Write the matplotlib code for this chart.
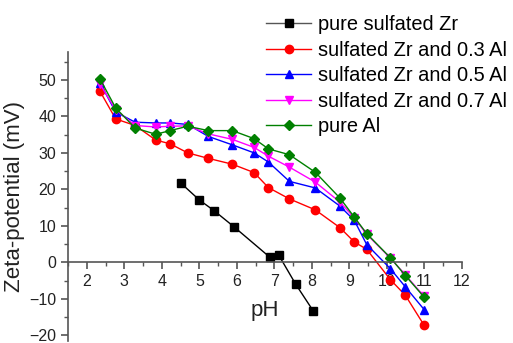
import numpy as np
import matplotlib
matplotlib.use("Agg")
import matplotlib.pyplot as plt
from matplotlib.ticker import MultipleLocator

# pH values
ph_zr = [4.51, 5.0, 5.39, 5.93, 6.87, 7.11, 7.57, 8.03]
zeta_zr = [21.7, 17.1, 14.2, 9.7, 1.5, 2.1, -6.0, -13.2]

ph = [2.35, 2.77, 3.29, 3.84, 4.22, 4.69, 5.24, 5.88, 6.46, 6.84, 7.40, 8.09,
      8.75, 9.13, 9.46, 10.09, 10.49, 10.99]
zeta_03 = [46.9, 39.3, 37.5, 33.5, 32.5, 30.0, 28.5, 26.9, 24.6, 20.5, 17.4, 14.4,
           9.5, 5.6, 3.6, -4.7, -9.0, -17.2]
zeta_05 = [49.2, 41.2, 38.4, 38.2, 38.2, 37.8, 34.5, 32.2, 30.0, 27.5, 22.2, 20.4,
           15.4, 11.5, 4.9, -1.7, -6.7, -12.9]
zeta_07 = [48.9, 41.8, 37.5, 37.1, 37.3, 37.4, 35.2, 33.7, 31.5, 29.1, 26.1, 22.0,
           16.5, 12.2, 7.7, 1.2, -3.4, -9.3]
zeta_al = [50.3, 42.3, 36.8, 35.1, 36.1, 37.3, 36.1, 36.1, 33.9, 31.1, 29.5, 24.7,
           17.6, 12.4, 7.9, 1.3, -3.6, -9.5]

labels = ["pure sulfated Zr", "sulfated Zr and 0.3 Al", "sulfated Zr and 0.5 Al",
          "sulfated Zr and 0.7 Al", "pure Al"]

plt.rcParams['font.family'] = 'Liberation Sans'

fig = plt.figure(figsize=(5.13, 3.43), dpi=100)
ax = fig.add_axes([0.1326, 0.006, 0.7680, 0.8410])

ms = 5.5
lw = 1.0
ax.plot(ph_zr, zeta_zr, '-s', color='black', ms=ms, lw=lw, label=labels[0])
ax.plot(ph, zeta_03, '-o', color='red', ms=ms + 0.5, lw=lw, label=labels[1])
ax.plot(ph, zeta_05, '-^', color='blue', ms=ms + 0.5, lw=lw, label=labels[2])
ax.plot(ph, zeta_07, '-v', color='magenta', ms=ms + 0.5, lw=lw, label=labels[3])
ax.plot(ph, zeta_al, '-D', color='green', ms=ms - 0.5, lw=lw, label=labels[4])

ax.set_xlim(1.5, 12)
ax.set_ylim(-21.5, 57.5)
ax.spines['top'].set_visible(False)
ax.spines['right'].set_visible(False)
ax.spines['bottom'].set_position(('data', 0))
for s in ['left', 'bottom']:
    ax.spines[s].set_color('#555555')
    ax.spines[s].set_linewidth(1.2)

ax.xaxis.set_minor_locator(MultipleLocator(0.5))
ax.set_xticks(range(2, 13))
ax.yaxis.set_minor_locator(MultipleLocator(5))
ax.set_yticks(range(-20, 51, 10))
ax.tick_params(axis='both', which='major', direction='out', length=5, width=1.2,
               color='#555555', labelsize=11.5, labelcolor='#222222')
ax.tick_params(axis='both', which='minor', direction='out', length=3, width=1.0,
               color='#555555')

ax.set_ylabel("Zeta-potential (mV)", fontsize=16, color='#222222', labelpad=3)
ax.text(6.75, -13.2, "pH", fontsize=16, color='#222222', ha='center', va='center')

leg = fig.legend(loc='upper left', bbox_to_anchor=(266 / 513, 1 - 15 / 343),
                 frameon=False, fontsize=14.4, handlelength=2.25,
                 handletextpad=0.35, labelspacing=0.33, borderaxespad=0,
                 borderpad=0)
# grey line, black marker for the first entry, like the original
h0 = leg.get_lines()[0]
h0.set_color('#555555')
h0.set_markerfacecolor('black')
h0.set_markeredgecolor('black')

fig.savefig("out.png", dpi=100)
